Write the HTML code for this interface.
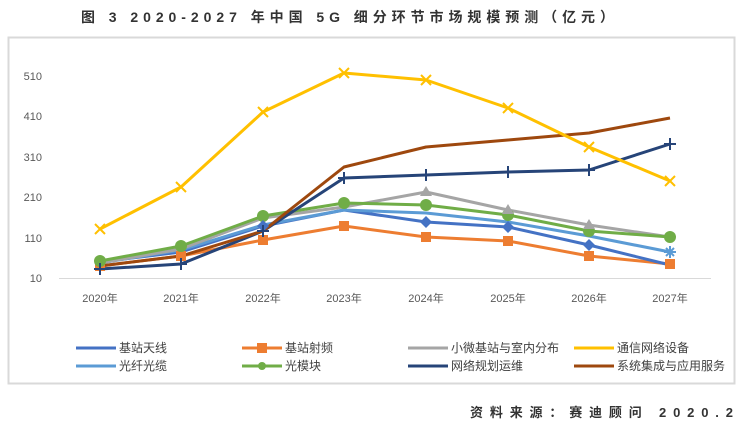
<!DOCTYPE html>
<html><head><meta charset="utf-8"><style>
body{margin:0;background:#fff;width:744px;height:431px;overflow:hidden;font-family:"Liberation Sans","Noto Sans CJK SC",sans-serif}
</style></head><body>
<svg width="744" height="431" xmlns="http://www.w3.org/2000/svg" font-family="Liberation Sans, Noto Sans CJK SC, sans-serif">
<text x="81" y="22" font-size="14" font-weight="bold" fill="#333" textLength="533" lengthAdjust="spacing">图 3 2020-2027 年中国 5G 细分环节市场规模预测（亿元）</text>
<rect x="8.5" y="37.5" width="726" height="346" fill="#fff" stroke="#d9d9d9" stroke-width="2"/>
<g font-size="11" fill="#595959" text-anchor="end">
<text x="42" y="282">10</text><text x="42" y="242">110</text><text x="42" y="201">210</text><text x="42" y="161">310</text><text x="42" y="120">410</text><text x="42" y="80">510</text>
</g>
<line x1="59" y1="278.5" x2="711" y2="278.5" stroke="#d9d9d9"/>
<g font-size="11" fill="#595959" text-anchor="middle">
<text x="100" y="302">2020年</text><text x="181" y="302">2021年</text><text x="263" y="302">2022年</text><text x="344" y="302">2023年</text><text x="426" y="302">2024年</text><text x="508" y="302">2025年</text><text x="589" y="302">2026年</text><text x="670" y="302">2027年</text>
</g>
<g fill="none" stroke-width="3" stroke-linejoin="round">
<polyline stroke="#ed7d31" points="100,266 181,256 263,240 344,226 426,237 508,241 589,256 670,264"/>
<polyline stroke="#4472c4" points="100,262 181,252 263,226 344,210 426,222 508,227 589,245 670,265"/>
<polyline stroke="#5b9bd5" points="100,263 181,250 263,225 344,210 426,213 508,222 589,236 670,252"/>
<polyline stroke="#a5a5a5" points="100,263 181,249 263,218 344,207 426,192 508,210 589,225 670,237"/>
<polyline stroke="#70ad47" points="100,261 181,246 263,216 344,203 426,205 508,215 589,231 670,237"/>
<polyline stroke="#264478" points="100,269 181,264 263,231 344,178 426,175 508,172 589,170 670,144"/>
<polyline stroke="#9e480e" points="100,266 181,256 263,231 344,167 426,147 508,140 589,133 670,118"/>
<polyline stroke="#ffc000" points="100,229 181,187 263,112 344,73 426,80 508,108 589,147 670,181"/>
</g>
<g fill="#ed7d31"><rect x="95" y="261" width="10" height="10"/><rect x="176" y="251" width="10" height="10"/><rect x="258" y="235" width="10" height="10"/><rect x="339" y="221" width="10" height="10"/><rect x="421" y="232" width="10" height="10"/><rect x="503" y="236" width="10" height="10"/><rect x="584" y="251" width="10" height="10"/><rect x="665" y="259" width="10" height="10"/></g>
<g fill="#70ad47"><circle cx="100" cy="261" r="6"/><circle cx="181" cy="246" r="6"/><circle cx="263" cy="216" r="6"/><circle cx="344" cy="203" r="6"/><circle cx="426" cy="205" r="6"/><circle cx="508" cy="215" r="6"/><circle cx="589" cy="231" r="6"/><circle cx="670" cy="237" r="6"/></g>
<g fill="#4472c4"><path d="M426 216l6 6-6 6-6-6z"/><path d="M508 221l6 6-6 6-6-6z"/><path d="M589 239l6 6-6 6-6-6z"/><path d="M263 220l6 6-6 6-6-6z"/></g>
<g fill="#a5a5a5"><path d="M426 186l6 10h-12z"/><path d="M508 204l6 10h-12z"/><path d="M589 219l6 10h-12z"/></g>
<g stroke="#ffc000" stroke-width="2"><path d="M95 224l10 10M105 224l-10 10M176 182l10 10M186 182l-10 10M258 107l10 10M268 107l-10 10M339 68l10 10M349 68l-10 10M421 75l10 10M431 75l-10 10M503 103l10 10M513 103l-10 10M584 142l10 10M594 142l-10 10M665 176l10 10M675 176l-10 10"/></g>
<g stroke="#264478" stroke-width="2"><path d="M94 269h12M100 263v12M175 264h12M181 258v12M257 231h12M263 225v12M338 178h12M344 172v12M420 175h12M426 169v12M502 172h12M508 166v12M583 170h12M589 164v12M664 144h12M670 138v12"/></g>
<g stroke="#5b9bd5" stroke-width="2"><path d="M664 252h12M670 246v12M666 248l8 8M674 248l-8 8"/></g>
<g font-size="12" fill="#404040">
<line x1="76" y1="348" x2="116" y2="348" stroke="#4472c4" stroke-width="3"/><text x="119" y="352">基站天线</text>
<line x1="242" y1="348" x2="282" y2="348" stroke="#ed7d31" stroke-width="3"/><rect x="257" y="343" width="10" height="10" fill="#ed7d31"/><text x="285" y="352">基站射频</text>
<line x1="408" y1="348" x2="448" y2="348" stroke="#a5a5a5" stroke-width="3"/><text x="451" y="352">小微基站与室内分布</text>
<line x1="574" y1="348" x2="614" y2="348" stroke="#ffc000" stroke-width="3"/><text x="617" y="352">通信网络设备</text>
<line x1="76" y1="366" x2="116" y2="366" stroke="#5b9bd5" stroke-width="3"/><text x="119" y="370">光纤光缆</text>
<line x1="242" y1="366" x2="282" y2="366" stroke="#70ad47" stroke-width="3"/><circle cx="262" cy="366" r="4" fill="#70ad47"/><text x="285" y="370">光模块</text>
<line x1="408" y1="366" x2="448" y2="366" stroke="#264478" stroke-width="3"/><text x="451" y="370">网络规划运维</text>
<line x1="574" y1="366" x2="614" y2="366" stroke="#9e480e" stroke-width="3"/><text x="617" y="370">系统集成与应用服务</text>
</g>
<text x="470" y="417" font-size="13" font-weight="bold" fill="#333" textLength="263" lengthAdjust="spacing">资料来源：赛迪顾问 2020.2</text>
</svg>
</body></html>
